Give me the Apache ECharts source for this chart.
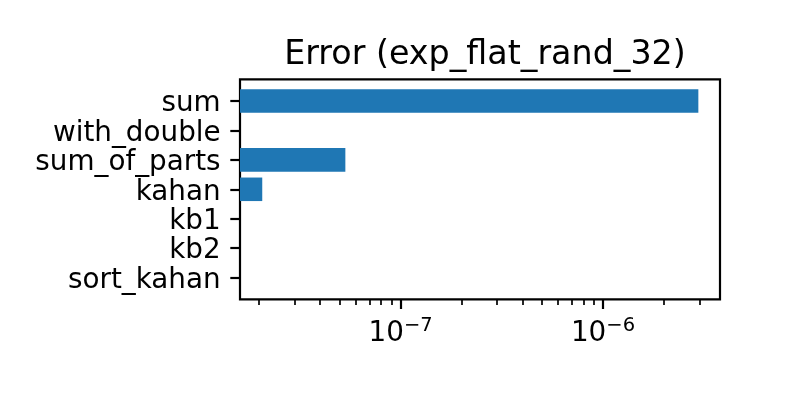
<!DOCTYPE html>
<html>
<head>
<meta charset="utf-8">
<script src="https://cdn.jsdelivr.net/npm/echarts@6.0.0/dist/echarts.min.js"></script>
<style>
html, body { margin: 0; padding: 0; background: #fff; }
#chart { width: 800px; height: 400px; }
</style>
</head>
<body>
<div id="chart"></div>
<script>
// error per summation method (0 = nothing drawn on the log axis)
var methods = ["sum", "with_double", "sum_of_parts", "kahan", "kb1", "kb2", "sort_kahan"];
var errors = [2.96e-6, 0, 5.33e-8, 2.07e-8, 0, 0, 0];

// log x range and ticks
var xMin = 1.607e-8;
var xMax = 3.787e-6;
var majorTicks = [1e-7, 1e-6];
var minorTicks = [2e-8, 3e-8, 4e-8, 5e-8, 6e-8, 7e-8, 8e-8, 9e-8,
                  2e-7, 3e-7, 4e-7, 5e-7, 6e-7, 7e-7, 8e-7, 9e-7,
                  2e-6, 3e-6];

var font = "DejaVu Sans";
var blue = "#1f77b4";

// frame: 240..720 x 79.3..299.3, bars sit in 7 bands of 220/7.48
var unit = 220 / 7.48;
var barTop = 79.3 + 0.24 * unit;

var chart = echarts.init(document.getElementById("chart"));

function expLabel(v) {
    var e = Math.round(Math.log10(v));
    return "{b|10}{s|" + (e < 0 ? "\u2212" + (-e) : e) + "}";
}

var option = {
    animation: false,
    backgroundColor: "#fff",
    title: {
        text: "Error (exp_flat_rand_32)",
        left: 480,
        top: 34,
        textAlign: "center",
        textStyle: { fontFamily: font, fontSize: 33.3, fontWeight: "normal", color: "#000" }
    },
    grid: [
        { left: 240, top: 79.3, width: 480, height: 220, show: true,
          borderColor: "#000", borderWidth: 2.2, backgroundColor: "transparent" },
        { left: 240, top: barTop, width: 480, height: 7 * unit }
    ],
    xAxis: [
        {
            gridIndex: 0, type: "log", logBase: 10, min: xMin, max: xMax,
            position: "bottom",
            axisLine: { show: false },
            splitLine: { show: false },
            axisTick: { show: true, length: 9.7, customValues: majorTicks,
                        lineStyle: { color: "#000", width: 2.2 } },
            axisLabel: {
                customValues: majorTicks, margin: 17,
                formatter: expLabel,
                rich: {
                    b: { fontFamily: font, fontSize: 27.8, color: "#000" },
                    s: { fontFamily: font, fontSize: 19.5, color: "#000", padding: [0, 0, 14, 0] }
                }
            }
        },
        {
            gridIndex: 0, type: "log", logBase: 10, min: xMin, max: xMax,
            position: "bottom",
            axisLine: { show: false },
            splitLine: { show: false },
            axisLabel: { show: false },
            axisTick: { show: true, length: 5.6, customValues: minorTicks,
                        lineStyle: { color: "#000", width: 1.7 } }
        },
        {
            gridIndex: 1, type: "log", logBase: 10, min: xMin, max: xMax,
            startValue: xMin, show: false
        }
    ],
    yAxis: [
        { gridIndex: 0, type: "value", show: false },
        {
            gridIndex: 1, type: "category", data: methods, inverse: true,
            axisLine: { show: false },
            axisTick: { show: true, alignWithLabel: true, length: 9.7,
                        lineStyle: { color: "#000", width: 2.2 } },
            axisLabel: {
                interval: 0, margin: 19.4,
                formatter: function (v) { return "{m|" + v + "}"; },
                rich: { m: { fontFamily: font, fontSize: 27.8, color: "#000", padding: [6, 0, 0, 0] } }
            }
        }
    ],
    series: [{
        type: "bar",
        xAxisIndex: 2,
        yAxisIndex: 1,
        barWidth: "80%",
        itemStyle: { color: blue },
        data: errors.map(function (v) { return v > 0 ? v : "-"; })
    }]
};

chart.setOption(option);
</script>
</body>
</html>
